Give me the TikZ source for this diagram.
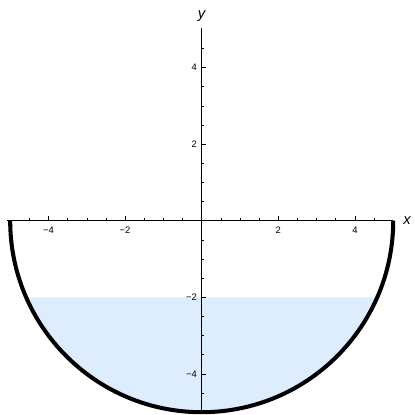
\documentclass[tikz,border=0pt]{standalone}
\usepackage{fontspec}
\setmainfont{Liberation Sans}
\usepackage{tikz}
\usetikzlibrary{positioning}
\definecolor{waterblue}{RGB}{222,237,253}

\begin{document}
\begin{tikzpicture}[font=\fontsize{7}{8}\selectfont]
\useasboundingbox (-5.266,-5.073) rectangle (5.543,5.762);
\fill[waterblue] ({-sqrt(21)},-2) arc (203.578:336.422:5) -- cycle;
\draw[line width=0.5pt] (-5.08,0) -- (5.0,0) node[right,xshift=4pt,font=\fontsize{11}{13}\selectfont\itshape] (xlab) {x};
\draw[line width=0.5pt] (0,-5.0) -- (0,5.03) node[above,yshift=1pt,font=\fontsize{11}{13}\selectfont\itshape] (ylab) {y};
\foreach \t in {-4.5,-4,...,4.5}{
  \ifdim\t pt=0pt\else
  \draw[line width=0.4pt] (\t,0) -- ++(0,0.07);
  \draw[line width=0.4pt] (0,\t) -- ++(0.07,0);
  \fi
}
\foreach \t/\s in {-4/−4,-2/−2,2/2,4/4}{
  \draw[line width=0.4pt] (\t,0) -- ++(0,0.12);
  \draw[line width=0.4pt] (0,\t) -- ++(0.1,0);
  \node (xt\t) at (\t,-0.25) {\s};
  \node[anchor=east,inner sep=2pt] (yt\t) at (-0.05,\t) {\s};
}
\draw[line width=3pt] (-5,0) arc (180:360:5);
\end{tikzpicture}
\end{document}
